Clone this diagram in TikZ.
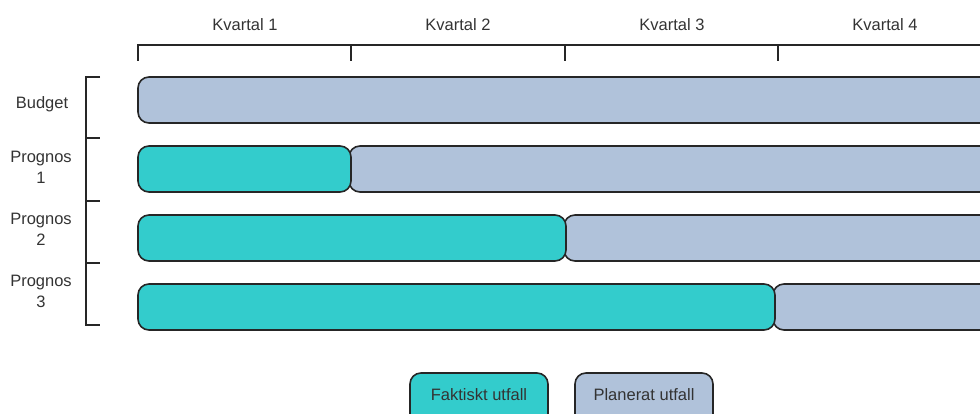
\documentclass[tikz,border=0pt]{standalone}
\usepackage{fontspec}
\setmainfont{Liberation Sans}
\begin{document}
\begin{tikzpicture}[x=1pt,y=-1pt,
  lbl/.style={font=\fontsize{16.5}{21}\selectfont, text=black!80, align=center, inner sep=0pt},
  axis/.style={line width=1.8pt, draw=black!85},
  bar/.style={line width=1.6pt, draw=black!85, rounded corners=11pt},
  actual/.style={bar, fill=teal1},
  plan/.style={bar, fill=grey1}]
\definecolor{teal1}{HTML}{33CCCC}
\definecolor{grey1}{HTML}{B0C2DA}
\useasboundingbox (0,0) rectangle (980,414);
\clip (0,0) rectangle (980,414);
% top axis
\coordinate (a0) at (138,45);
\coordinate (a1) at (351,45);
\coordinate (a2) at (565,45);
\coordinate (a3) at (778,45);
\coordinate (aend) at (985,45);
\draw[axis] ([yshift=-16pt]a0) -- (a0) -- (aend);
\foreach \c in {a1,a2,a3} \draw[axis] (\c) -- ([yshift=-16pt]\c);
\node[lbl] (k1) at (245,25) {Kvartal 1};
\node[lbl] (k2) at (458,25) {Kvartal 2};
\node[lbl] (k3) at (672,25) {Kvartal 3};
\node[lbl] (k4) at (885,25) {Kvartal 4};
% left axis
\coordinate (l0) at (86,77);
\coordinate (l1) at (86,138);
\coordinate (l2) at (86,201);
\coordinate (l3) at (86,263);
\coordinate (l4) at (86,325);
\draw[axis] ([xshift=14pt]l0) -- (l0) -- (l4) -- ([xshift=14pt]l4);
\foreach \c in {l1,l2,l3} \draw[axis] (\c) -- ([xshift=14pt]\c);
\node[lbl] (rb) at (42,104) {Budget};
\node[lbl] (r1) at (41,167) {Prognos\\1};
\node[lbl] (r2) at (41,229) {Prognos\\2};
\node[lbl] (r3) at (41,291) {Prognos\\3};
% bars
\draw[plan] (138,77) rectangle (1000,123);
\draw[plan] (349,146) rectangle (1000,192);
\draw[actual] (138,146) rectangle (351,192);
\draw[plan] (564,215) rectangle (1000,261);
\draw[actual] (138,215) rectangle (566,261);
\draw[plan] (773,284) rectangle (1000,330);
\draw[actual] (138,284) rectangle (775,330);
% legend
\draw[actual] (410,373) rectangle (548,425);
\node[lbl] (lf) at (479,395) {Faktiskt utfall};
\draw[plan] (575,373) rectangle (713,425);
\node[lbl] (lp) at (644,395) {Planerat utfall};
\end{tikzpicture}
\end{document}
